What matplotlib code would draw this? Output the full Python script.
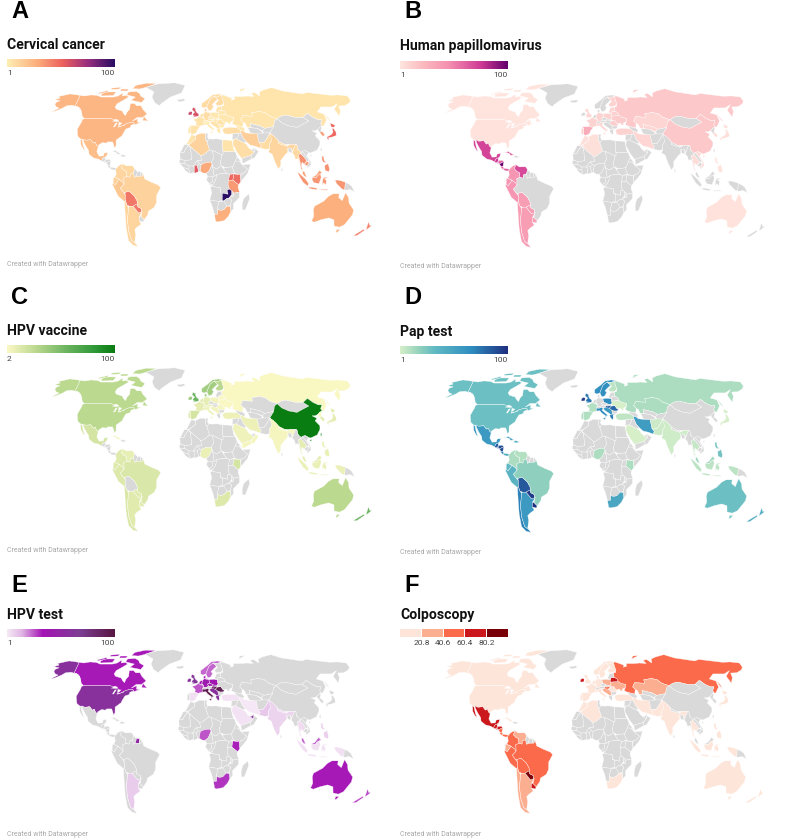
"""Six small world choropleths, Datawrapper style. Outlines are rough lon/lat rings."""
import numpy as np
import matplotlib

matplotlib.use("Agg")
import matplotlib.pyplot as plt
from matplotlib.colors import LinearSegmentedColormap, BoundaryNorm, ListedColormap, Normalize
from matplotlib.patches import Polygon

GRAY = "#d9d9d9"

OUTLINES = {
    "Canada": [
        [(-141,69.6),(-135,69),(-128,70),(-120,69.5),(-115,68),(-108,68),(-100,68),(-95,69),(-94,72),(-90,69),(-85,69.5),(-82,68),(-87,65),(-93,62),(-94.5,59),(-92,57),(-85,55.5),(-82,53),(-79.5,51.5),(-79,54.5),(-77,57),(-78,62),(-73,62),(-70,60),(-65,60),(-62,57),(-56,53),(-60,50),(-66,50),(-70,47),(-65,49),(-64,46),(-60,46),(-66,44),(-67.5,45.5),(-70,46),(-75,45),(-79,43),(-83,42),(-82.5,45),(-88,48),(-95,49),(-123,49),(-127,51),(-130,54.5),(-133,57),(-137,59),(-141,60)],
        [(-80,73.5),(-72,71.5),(-68,69),(-62,66.5),(-65,63),(-72,64),(-78,65),(-74,68),(-85,70),(-89,73)],
        [(-118,73),(-105,73),(-101,69.5),(-115,69),(-118,71)],
        [(-125,72),(-120,74.5),(-116,73),(-122,71)],
        [(-90,80),(-78,83),(-62,82.5),(-72,78),(-80,76),(-90,76.5)],
        [(-105,76),(-95,76),(-93,74),(-102,74)],
        [(-120,77),(-108,78),(-108,76),(-118,75.5)],
        [(-59,51),(-53,47),(-59,47.5)],
    ],
    "USA": [
        [(-124.7,48.4),(-123,49),(-95,49),(-88,48),(-84,46.5),(-82.5,45),(-83,42),(-79,43),(-75,45),(-70,46),(-67.5,45.5),(-67,44.5),(-70,43.5),(-70,41.7),(-74,40.5),(-75.5,37),(-76,35),(-81,31.5),(-80,27),(-81,25),(-82.7,28),(-84,30),(-89,30),(-90,29),(-94,29.5),(-97.3,27.5),(-97.3,26),(-99.5,27.5),(-101,29.7),(-103,29),(-106.5,31.8),(-111,31.3),(-117,32.5),(-120.5,34.5),(-122.5,37.5),(-124.3,40.3),(-124,46)],
        [(-141,69.6),(-141,60),(-137,59),(-133,57),(-131,55),(-135,58.5),(-145,60.5),(-151,60),(-154,58),(-160,55.5),(-164,54.7),(-158,58),(-162,59),(-165,61),(-165,63),(-161,64.5),(-168,65.5),(-163,67),(-166,68.5),(-157,71),(-150,70.5)],
    ],
    "Greenland": [[(-73,78),(-60,82),(-35,83.5),(-18,80),(-20,72),(-32,68),(-42,62),(-44,60),(-50,63),(-54,68),(-56,73)]],
    "Iceland": [[(-24,65.5),(-16,66.3),(-14,65),(-19,63.5),(-22.5,64)]],
    "Mexico": [
        [(-114.7,32.5),(-111,31.3),(-106.5,31.8),(-103,29),(-101,29.7),(-99.5,27.5),(-97.3,26),(-97.8,22),(-95,18.5),(-91,18.7),(-90.5,21),(-87,21.5),(-88,18),(-89,17.8),(-91,17),(-92.2,14.6),(-95,16),(-100,17),(-105,20),(-106,23),(-109.5,26.5),(-112.7,30)],
        [(-117,32.5),(-115,31.5),(-112,26.5),(-109.5,23),(-112,24.7),(-115,28)],
    ],
    "Guatemala": [[(-92.2,14.6),(-91,17),(-89.2,17.8),(-88.3,15.7),(-89.5,14.2),(-90.5,13.9)]],
    "Belize": [[(-89.2,17.8),(-88.3,18.4),(-88.3,15.9)]],
    "Salvador": [[(-90,13.8),(-88.8,14.3),(-87.8,13.4),(-89,13.3)]],
    "Honduras": [[(-88.3,15.7),(-85,16),(-83.2,15),(-85,14),(-87.3,13),(-88.8,14.3)]],
    "Nicaragua": [[(-87.3,13),(-85,14),(-83.2,15),(-83.7,11),(-85.7,11.1)]],
    "Costa Rica": [[(-85.7,11.1),(-83.7,11),(-82.6,9.5),(-83.2,8.3),(-85.5,10)]],
    "Panama": [[(-83,9.5),(-80,9.2),(-77.4,8.7),(-78,7.3),(-80.5,7.3),(-83,8.2)]],
    "Cuba": [[(-85,22),(-80,23.1),(-74.2,20.2),(-77.5,19.9),(-78.5,21.3),(-82,22.3)]],
    "Hispaniola": [[(-74.4,18.5),(-72.8,19.9),(-68.4,18.6),(-71.5,17.8)]],
    "Colombia": [[(-77.4,8.7),(-75,11),(-71.5,12.4),(-72.5,9),(-70,7),(-67.5,6),(-67,2),(-70,1.2),(-69.8,-4.2),(-71.5,-2.2),(-75,0),(-78.8,1.4),(-77.3,4),(-78,7.3)]],
    "Venezuela": [[(-71.5,12.4),(-68,10.6),(-62,10.7),(-60,8.5),(-60.8,5),(-64,4),(-64,1.5),(-67,2),(-67.5,6),(-70,7),(-72.5,9)]],
    "Guyana": [[(-60,8.5),(-57.2,6),(-58,2),(-60,1.3),(-60.8,5)]],
    "Suriname": [[(-57.2,6),(-54,5.9),(-54.5,2.3),(-58,2)]],
    "French Guiana": [[(-54,5.9),(-51.7,4.2),(-53,2.2),(-54.5,2.3)]],
    "Ecuador": [[(-80,1),(-78.8,1.4),(-75.3,0),(-75.5,-1.5),(-78.5,-4.8),(-80.3,-3.4)]],
    "Peru": [[(-81,-4.5),(-80.3,-3.4),(-78.5,-4.8),(-75.5,-1.5),(-75.3,0),(-71.5,-2.2),(-69.8,-4.2),(-73.5,-7.5),(-70.6,-11),(-69,-13),(-69.5,-17.5),(-70.5,-18.3),(-76,-14)]],
    "Bolivia": [[(-69.5,-10.9),(-65.4,-9.8),(-60.5,-13.7),(-58.3,-17.5),(-58,-20),(-62.5,-22),(-66,-22),(-68.5,-21),(-69.5,-17.5),(-69,-13)]],
    "Chile": [[(-70.5,-18.3),(-69.5,-17.5),(-68.5,-21),(-67,-23),(-70,-33),(-71.8,-42),(-72,-50),(-68.5,-52.5),(-67,-55),(-72,-54),(-75.5,-50),(-73.5,-40),(-71.5,-30)]],
    "Argentina": [[(-66,-22),(-62.5,-22),(-58,-27.3),(-54,-26),(-57.6,-30.5),(-58.4,-34),(-57,-36.5),(-62,-39),(-65,-41),(-65.5,-45),(-69,-51),(-68.5,-52.5),(-72,-50),(-71.8,-42),(-70,-33),(-67,-23)]],
    "Paraguay": [[(-62.5,-22),(-58,-20),(-58,-22.5),(-54.5,-24),(-54.7,-26.5),(-58,-27.3)]],
    "Uruguay": [[(-58.4,-34),(-57.6,-30.5),(-56,-30.2),(-53.3,-33),(-54.5,-34.8)]],
    "Brazil": [[(-60,1.3),(-58,2),(-54.5,2.3),(-53,2.2),(-51.7,4.2),(-50,0),(-44,-2.5),(-37,-5),(-35,-7),(-39,-13),(-39.5,-19),(-42,-23),(-48,-26),(-49,-29),(-53.3,-33),(-56,-30.2),(-54,-26),(-54.7,-26.5),(-54.5,-24),(-58,-22.5),(-58,-20),(-58.3,-17.5),(-60.5,-13.7),(-65.4,-9.8),(-69.5,-10.9),(-70.6,-11),(-73.5,-7.5),(-69.8,-4.2),(-70,1.2),(-67,2),(-64,1.5),(-64,4),(-60.8,5)]],
    "Morocco": [[(-9.5,30),(-6,35.8),(-2,35),(-1.5,32),(-5,30),(-8.7,28),(-13,27.7),(-10,29)]],
    "W Sahara": [[(-13,27.7),(-8.7,27.7),(-12,23.4),(-13,21.3),(-17,21),(-15,24)]],
    "Algeria": [[(-2,35),(3,37),(8.6,36.9),(8,33),(9.5,30),(12,23.5),(5.7,19.4),(3.2,19),(-8.7,27.3),(-5,30),(-1.5,32)]],
    "Tunisia": [[(8.6,36.9),(11,37),(10.2,34),(11.5,32.5),(9.5,30),(8,33)]],
    "Libya": [[(11.5,32.5),(15,32.3),(20,32.5),(25,31.6),(25,20),(24,19.5),(15,23),(12,23.5),(9.5,30)]],
    "Egypt": [[(25,31.6),(31,31.5),(34.5,31),(35.5,24),(37,22),(25,22)]],
    "Mauritania": [[(-17,21),(-13,21.3),(-12,23.4),(-8.7,27.3),(-5,25),(-6.5,25),(-5.5,15.5),(-12,15),(-16.5,16)]],
    "Mali": [[(-8.7,27.3),(3.2,19),(4.2,15),(0,14.8),(-4,10.5),(-8,10.5),(-12,12.5),(-12,15),(-5.5,15.5),(-6.5,25)]],
    "Senegal": [[(-17.5,14.7),(-16.5,16),(-12,15),(-12,12.5),(-16.7,12.4)]],
    "Guinea": [[(-16.7,12.4),(-12,12.5),(-8,10.5),(-8,7.7),(-10.5,8.5),(-13.3,9.3),(-15,11)]],
    "Liberia": [[(-13.3,9.3),(-10.5,8.5),(-8,7.7),(-7.5,4.4),(-11.5,6.8)]],
    "Ivory Coast": [[(-8,10.5),(-4,10.5),(-2.7,9.5),(-3,5.2),(-7.5,4.4),(-8,7.7)]],
    "Burkina": [[(-4,10.5),(0,14.8),(2.2,12.4),(0,11),(-2.7,9.5)]],
    "Ghana": [[(-2.7,11),(0,11),(1.2,6),(-2,4.8),(-3,5.2)]],
    "Benin": [[(0,11),(2.2,12.4),(3.8,11.7),(2.7,6.3),(1.2,6)]],
    "Niger": [[(3.2,19),(5.7,19.4),(12,23.5),(15,23),(15.5,16.5),(13.5,13.6),(8,13.3),(3.8,11.7),(2.2,12.4),(0,14.8),(4.2,15)]],
    "Nigeria": [[(2.7,6.3),(3.8,11.7),(8,13.3),(13.5,13.6),(14.2,12),(11.5,6.7),(8.5,4.6),(5.5,4.8)]],
    "Chad": [[(15,23),(24,19.5),(22,13),(23,10.8),(18.5,8),(14.5,10),(14.2,12),(13.5,13.6),(15.5,16.5)]],
    "Sudan": [[(25,22),(37,22),(38.5,18),(36.5,14.5),(34,10),(27,9),(23,10.8),(22,13),(24,19.5),(25,20)]],
    "S Sudan": [[(27,9),(34,10),(34,8),(35.5,4.8),(31,3.7),(28,4.5),(24.5,8.7)]],
    "Eritrea": [[(38.5,18),(43,12.7),(40,14.5),(36.5,14.5)]],
    "Ethiopia": [[(36.5,14.5),(40,14.5),(43,11.5),(48,8),(45,5),(41.8,4),(39,3.5),(35.5,4.8),(34,8),(34,10)]],
    "Somalia": [[(43,11.5),(51,12),(48,4.5),(42,-1.5),(41,-0.8),(41.8,4),(45,5),(48,8)]],
    "Cameroon": [[(8.5,4.6),(11.5,6.7),(14.2,12),(14.5,10),(15.5,7),(16,2),(9.8,2.2)]],
    "CAR": [[(15.5,7),(14.5,10),(18.5,8),(23,10.8),(24.5,8.7),(28,4.5),(22,4.2),(18.5,3.6),(16,2)]],
    "Gabon": [[(9.3,1),(9.8,2.2),(14,2.2),(14.5,-2),(11.5,-3.8),(8.8,-1)]],
    "Congo": [[(14,2.2),(16,2),(18.5,3.6),(17.5,-1),(15,-4.5),(11.5,-4.8),(11.5,-3.8),(14.5,-2)]],
    "DRC": [[(18.5,3.6),(22,4.2),(28,4.5),(31,3.7),(29.7,-1),(29.3,-4.5),(30.7,-8.2),(28.5,-9),(29.5,-12.3),(27,-12),(22,-11),(21.8,-7),(13,-6),(15,-4.5),(17.5,-1)]],
    "Uganda": [[(31,3.7),(35,4.2),(34,0),(33.9,-1),(29.7,-1.2),(30,0.5)]],
    "Kenya": [[(35,4.2),(39,3.5),(41,3.9),(41,-0.8),(41.5,-2),(39.3,-4.7),(33.9,-1),(34,0)]],
    "Tanzania": [[(29.7,-1.2),(33.9,-1),(39.3,-4.7),(38.8,-6.5),(40.4,-10.5),(35,-11.5),(33,-9.5),(30.7,-8.2),(29.3,-4.5)]],
    "Angola": [[(13,-6),(21.8,-7),(22,-11),(24,-11),(24,-17.5),(20,-18),(12,-17.3),(13.7,-11),(12.5,-6.5)]],
    "Zambia": [[(22,-11),(27,-12),(29.5,-12.3),(28.5,-9),(30.7,-8.2),(33,-9.5),(33,-12.5),(30.5,-15.3),(28,-16),(25.5,-17.8),(24,-17.5),(24,-11)]],
    "Malawi": [[(33,-9.5),(34.8,-11.5),(35.7,-15),(35,-17),(33.5,-14)]],
    "Mozambique": [[(35,-11.5),(40.4,-10.5),(40.5,-15),(35,-20),(35.5,-24),(32.8,-26.5),(32,-22),(33,-17),(30.5,-15.3),(33,-14),(34.6,-14.5)]],
    "Zimbabwe": [[(25.5,-17.8),(28,-16),(30.5,-15.5),(33,-17),(32,-21.5),(29,-22),(26,-19)]],
    "Namibia": [[(12,-17.3),(20,-18),(25,-17.7),(21,-18.5),(20,-22),(20,-28.5),(17,-28.8),(14.5,-22)]],
    "Botswana": [[(21,-18.5),(25.5,-17.8),(29,-22),(26,-24.8),(23,-25.5),(20,-24.8),(20,-22)]],
    "South Africa": [[(17,-28.8),(20,-28.5),(20,-24.8),(23,-25.5),(26,-24.8),(29,-22),(32,-22.3),(32.8,-26.5),(31,-30),(27,-33.7),(20,-34.8),(18.3,-34)]],
    "Madagascar": [[(49.3,-12),(50.4,-16),(47,-25),(44,-25),(43.5,-21),(44.5,-16)]],
    "Ireland": [[(-10,52),(-10,54),(-7.5,55.3),(-5.8,54.5),(-6,52.2)]],
    "UK": [[(-5.5,50),(1.5,51.2),(1.7,52.8),(-1,54.5),(-2,56),(-2,57.6),(-5,58.6),(-6,56.5),(-3,54.5),(-4.8,53),(-5,51.7),(-3,51.3)]],
    "Norway": [[(5,59),(5,62),(12,66),(18,70),(26,71),(31,70),(25,68.7),(20,69),(15,66),(12,61),(11,59),(7.5,58)]],
    "Sweden": [[(11,59),(12,61),(15,66),(20,69),(24,66),(21,64),(17,61),(18.8,59.5),(16.5,56.5),(13,55.5)]],
    "Finland": [[(20,69),(25,68.7),(29,69.5),(30,65),(31,62.5),(28,60.5),(23,60),(21,62),(25,65),(24,66)]],
    "Denmark": [[(8.2,55),(8.3,57),(10.5,57.5),(10.5,55),(12.5,55.5),(12,54.7),(9.5,54.8)]],
    "Germany": [[(6,51),(7,53.5),(9,54.8),(14,54),(15,51),(12.2,50.3),(13.7,48.6),(10,47.4),(7.6,47.6),(8,49)]],
    "Benelux": [[(2.6,51),(4.5,53),(7,53.5),(6,51),(6,49.5),(4,50)]],
    "France": [[(-1.5,43.4),(-1.2,46),(-4.7,48.4),(-1.5,49),(2.6,51),(4,50),(8,49),(7.6,47.6),(7,43.7),(3,43),(3,42.5)]],
    "Spain": [[(-9,43),(-1.5,43.4),(3,42.5),(0,39.5),(-0.5,38),(-2,36.8),(-5.5,36),(-7,37.2),(-7,42)]],
    "Portugal": [[(-9,42),(-7,42),(-7,37.2),(-9,37),(-9.5,38.8)]],
    "Alps": [[(6.2,46.2),(7.6,47.6),(10,47.4),(13.7,48.6),(17,48),(16,46.8),(12.5,46.6),(9,46)]],
    "Italy": [[(7,43.7),(6.2,46.2),(9,46),(12.5,46.6),(13.7,45.6),(12.3,44.5),(16,41.8),(18.4,40),(16.5,39.8),(16,38),(15.5,40),(12,42),(10,44)],
              [(12.5,38),(15.6,38.2),(15,36.7)]],
    "Poland": [[(14,54),(19,54.4),(23.5,54),(24,50.5),(22.5,49.1),(19,49.4),(15,51)]],
    "Czechia": [[(12.2,50.3),(15,51),(18.8,49.6),(17,48.7),(13.7,48.6)]],
    "Slovakia": [[(17,48),(17,48.7),(18.8,49.6),(22.5,49.1),(22.2,48.3),(18.8,47.8)]],
    "Hungary": [[(16,46.8),(17,48),(18.8,47.8),(22.2,48.3),(22.8,47.8),(20.3,46),(17,45.9)]],
    "Romania": [[(20.3,46),(22.8,47.8),(26.6,48.2),(28.2,46),(29.7,45),(28.5,43.8),(25,43.7),(22.7,44.3)]],
    "Bulgaria": [[(22.7,44.3),(25,43.7),(28.5,43.8),(27.8,42),(26,41.4),(23,41.4)]],
    "Balkans": [[(13.7,45.6),(16,46.8),(20.3,46),(22.7,44.3),(23,41.4),(20.8,40.9),(19.4,42),(15.5,44)]],
    "Greece": [[(20,39.7),(20.8,40.9),(26,41.4),(23.5,40.3),(23.5,37.8),(22.5,36.5),(21,38)]],
    "Ukraine": [[(24,50.5),(23.5,52),(32,52.5),(35,51),(40,50),(39,47.5),(35,46),(36,45),(33.5,44.5),(32,46.3),(30,45.5),(28.2,46),(26.6,48.2),(22.5,48.4)]],
    "Belarus": [[(23.5,54),(24.5,56),(28,56),(31,55),(32,52.5),(23.5,52)]],
    "Baltics": [[(21,56),(23.5,59.3),(28,59.5),(28,56),(24.5,56),(23.5,54),(21,55)]],
    "Turkey": [[(26,40),(28,41.3),(33,42),(41.5,41.5),(44.5,39.5),(44.5,37),(36,36.5),(30,36.3),(27,37)]],
    "Russia": [[(28,60),(30,60),(31,62.5),(30,65),(29,69.5),(31,70),(41,67),(40,65),(44,66),(44,68.5),(54,68.5),(60,69),(68,68.5),(67,71.5),(73,72.5),(75,69),(80,73),(90,75),(105,77.5),(113,74),(130,71),(140,72.5),(160,69.7),(170,70),(180,69),(180,65),(177,62.5),(170,60),(163,59.8),(162,56),(156.7,51),(155.7,57),(163,62),(155,59),(142,59),(135,54.7),(141,53),(140,48),(133,43),(131,43),(131,45),(135,48),(131,48),(127,50),(123,53.5),(120,52),(116,50),(108,50),(98,52),(92,51),(87,49),(80,51),(76,54),(70,55),(61,54),(61,51),(50,51.5),(47,48),(49,46),(47.5,42),(40,43.5),(37,45),(39,47.5),(40,50),(35,51),(32,52.5),(31,55),(28,56)],
            [(142,54),(143.5,49),(142.5,46.5),(142,50)],[(55,73),(68,76.5),(60,76),(52,71.5)]],
    "Caucasus": [[(40,43.5),(47.5,42),(49.5,40.3),(48,38.5),(44.5,39.5),(41.5,41.5)]],
    "Kazakhstan": [[(47,48),(50,51.5),(61,51),(61,54),(70,55),(76,54),(80,51),(87,49),(83,47),(80,42.5),(70,41),(66,43),(56,45),(56,41.5),(52,42),(51,45),(49,46)]],
    "Uzbekistan": [[(56,45),(66,43),(70,41),(67,39),(62,41),(56,41.5)]],
    "Turkmenistan": [[(52.5,41.5),(56,41.5),(62,41),(67,38),(62,35.3),(54,37.5)]],
    "Kyrgyz": [[(70,41),(80,42.5),(74,37.3),(68,37),(67,39)]],
    "Mongolia": [[(87,49),(92,51),(98,52),(108,50),(116,50),(120,47),(112,44.5),(104,41.8),(96,43),(90,45.5)]],
    "China": [[(74,37.3),(80,42.5),(83,47),(87,49),(90,45.5),(96,43),(104,41.8),(112,44.5),(120,47),(116,50),(120,52),(123,53.5),(127,50),(131,48),(135,48),(131,45),(131,43),(128,42),(124.3,40),(121,39),(118,39),(122,37),(119,35),(122,31),(121,28),(117,23.5),(110,21),(108,21.6),(105,23),(102,21.5),(99.5,22),(98,25),(98,28),(92,28),(86,28),(81,30.3),(79,33),(75,36)],
              [(108.7,19.3),(111,19.8),(110,18.3)]],
    "Taiwan": [[(121,25.2),(122,25),(120.8,22),(120,23.5)]],
    "North Korea": [[(124.3,40),(128,42),(130.6,42.5),(127.5,39.5),(128,38.4),(125,37.8)]],
    "South Korea": [[(125,37.8),(128,38.4),(129.4,36),(127,34.5),(126.3,35)]],
    "Japan": [[(130,33),(131,34.2),(136,36),(139,38),(140,41),(141.5,41),(142,38),(140.5,35.2),(136,34),(132,33.5),(131,31.2)],
              [(140,42),(141.5,45.5),(145.3,43.5),(143,42)]],
    "Iran": [[(44.5,39.5),(48,38.5),(49,37.4),(54,37),(61,36.5),(61,31),(63,27),(61.5,25),(57,26.5),(52,27.5),(48.5,30.3),(46,33),(44.5,37)]],
    "Iraq": [[(42.5,37.2),(44.5,37),(46,33),(48.5,30),(46.5,29.2),(42,31),(39,32.5),(41,34.5)]],
    "Syria": [[(36,36.5),(42.5,37.2),(41,34.5),(39,32.5),(36,32.3),(34.5,31),(35.5,34.5)]],
    "Saudi": [[(36,32),(39,32.5),(42,31),(46.5,29.2),(48.5,28),(50,25.5),(52,24),(55.5,22),(52,19),(45,17.3),(43,16.5),(39,21),(35,28)]],
    "Yemen": [[(43,16.5),(45,17.3),(52,19),(53,16.7),(45,13),(43.3,12.8)]],
    "Oman": [[(55.5,22),(56.3,24.5),(59.8,22.5),(55,17),(53,16.7),(52,19)]],
    "UAE": [[(52,24),(54.5,24.2),(56.3,25.8),(55.5,22)]],
    "Afghanistan": [[(61,36.5),(67,37.3),(74,37.3),(70,33),(66,29.5),(61,29.5),(61,31)]],
    "Pakistan": [[(61,29.5),(66,29.5),(70,33),(74,37),(77,35),(74,31),(71,28),(71,24.5),(67,24),(61.5,25),(63,27)]],
    "India": [[(74,37),(77,35),(79,33),(81,30.3),(80.2,28.7),(88,26.5),(92,28),(97,28),(94,24),(92,22.5),(92,25),(88.5,25),(88,21.7),(85,19.5),(80.3,15),(80,11),(77.5,8),(74.5,14),(72.7,20),(69,22),(71,24.5),(71,28),(74,31)]],
    "Nepal": [[(80.2,28.7),(81,30.3),(86,28),(88,27.8),(88,26.5)]],
    "Bangladesh": [[(88.5,25),(92,25),(92,21),(89,21.8)]],
    "Sri Lanka": [[(80,9.7),(81.8,7.5),(80.5,6)]],
    "Myanmar": [[(92.2,21),(94,24),(97,28),(98.5,27),(98,24),(101,21.5),(98,19),(98.6,14),(98.7,10),(97.5,16.5),(94.5,16),(94,19)]],
    "Thailand": [[(98,20),(100.5,20.3),(103,18),(105.5,15),(102.5,12),(100.5,13.5),(99.5,10),(101,6.8),(99,8.5),(98.7,14)]],
    "Laos": [[(100.5,20.3),(102,22.4),(105,19),(107.5,15),(105.5,14.3),(103,18)]],
    "Cambodia": [[(102.5,12),(105.5,14.3),(107.5,13),(105,10.5)]],
    "Vietnam": [[(102,22.4),(105,23),(108,21.5),(106,19),(109,14),(109,11.5),(105,8.7),(105,10.5),(107.5,13),(107.5,15),(105,19)]],
    "Malaysia": [[(100.5,6.4),(102,6.2),(103.5,3),(104.2,1.4),(102,2.3),(100.5,4)],
                 [(109.5,1.5),(113,3),(116.7,7),(119,5),(117.5,4.2),(115,3),(113.5,1.3),(111,1)]],
    "Indonesia": [[(95.3,5.6),(98,4),(103,0),(106,-3.5),(105.5,-5.8),(101,-3),(98,1)],
                  [(105.5,-6.8),(108.5,-6.5),(114.5,-7.5),(114.3,-8.7),(108,-7.9)],
                  [(109.5,1.5),(111,1),(113.5,1.3),(115,3),(117.5,4.2),(118,1),(116,-3.8),(111,-3),(109.3,-0.5)],
                  [(119,-5.5),(119.5,0),(120.8,1.3),(125,1.4),(121,0),(123,-1),(122.5,-5),(120.5,-3)],
                  [(116,-8.5),(124,-8.3),(125,-9),(119,-9)],
                  [(131,-1),(134,-0.8),(138,-1.7),(141,-2.6),(141,-9),(138,-8),(133,-4)]],
    "PNG": [[(141,-2.6),(145,-4.3),(147.5,-6),(150.5,-10.5),(146,-8.5),(143,-9),(141,-9)]],
    "Philippines": [[(120.5,18.5),(122.2,18.4),(122,15),(124,13),(121,13.7),(120,15)],
                    [(122,11),(125.5,12.5),(126.3,8),(125.5,5.8),(122,7)]],
    "Australia": [[(114,-22),(122,-18),(126,-14),(130,-12),(136,-12),(136,-15),(140,-17.5),(142,-11),(145.5,-15),(147,-19.5),(153,-25),(153.5,-29),(150,-37),(146,-39),(140,-38),(137,-33),(131,-31.5),(124,-33),(118,-35),(115,-34),(115.5,-30),(113.5,-25)],
                  [(144.7,-40.8),(148.3,-41),(147,-43.5),(145.5,-43)]],
    "New Zealand": [[(172.7,-34.5),(176,-37.5),(178.5,-37.7),(175.5,-41.5),(174.5,-39.5)],
                    [(172.7,-40.6),(174.3,-41.7),(170.5,-46),(166.5,-46),(169,-43.7)]],
}

LAKES = [
    [(-92,46.8),(-88,48.6),(-85,47.8),(-84.8,46.6),(-87,46.5)],
    [(-88,42),(-86.3,42),(-85,45.8),(-87,45.5)],
    [(-84,46),(-80,45.5),(-81.7,43.2),(-83.5,44)],
    [(-83.3,41.6),(-79,42.8),(-81,42.9)],
    [(-79.7,43.3),(-76.3,43.4),(-77,44)],
]

PANEL_LETTERS = ["A", "B", "C", "D", "E", "F"]
PANEL_TITLES = ["Cervical cancer", "Human papillomavirus", "HPV vaccine", "Pap test", "HPV test", "Colposcopy"]
LOW_LABELS = ["1", "1", "2", "1", "1", None]
STEP_LABELS = ["20.8", "40.6", "60.4", "80.2"]
STEP_EDGES = [1, 20.8, 40.6, 60.4, 80.2, 100]

CANCER = {"Canada":25,"USA":25,"Mexico":22,"Colombia":12,"Venezuela":11,"Ecuador":14,"Peru":18,"Brazil":13,"Chile":12,"Argentina":12,
    "Bolivia":45,"Paraguay":45,"UK":58,"Ireland":62,"Norway":9,"Sweden":10,"Finland":9,"Denmark":14,"Russia":5,"Germany":8,"France":6,
    "Spain":6,"Portugal":6,"Benelux":8,"Alps":4,"Italy":2,"Poland":4,"Czechia":4,"Slovakia":4,"Hungary":4,"Romania":6,"Bulgaria":4,
    "Balkans":6,"Greece":4,"Ukraine":4,"Belarus":4,"Baltics":6,"Turkey":8,"Kazakhstan":5,"Caucasus":4,"Iran":15,"Pakistan":9,"India":12,"Nepal":9,
    "Saudi":8,"Egypt":6,"Algeria":13,"Morocco":6,"Nigeria":30,"Ghana":55,"Uganda":50,"Kenya":48,"Tanzania":35,"Zambia":100,"South Africa":28,
    "Japan":50,"South Korea":35,"Thailand":38,"Cambodia":34,"Malaysia":32,"Indonesia":36,"Philippines":38,"Australia":28,"New Zealand":42,"Myanmar":10}
HPV = {"Canada":2,"USA":3,"Mexico":72,"Guatemala":75,"Honduras":60,"Nicaragua":100,"Belize":60,"Salvador":70,"Costa Rica":60,"Panama":60,"Cuba":62,
    "Colombia":42,"Venezuela":70,"Ecuador":42,"Peru":42,"Bolivia":38,"Chile":38,"Argentina":38,"Paraguay":38,"Uruguay":38,"Russia":15,"Kazakhstan":9,
    "China":15,"Japan":4,"South Korea":6,"Spain":30,"Portugal":12,"France":10,"UK":8,"Germany":10,"Italy":9,"Poland":10,"Ukraine":14,"Romania":14,"Finland":10,
    "Turkey":10,"Iran":8,"Algeria":4,"Morocco":4,"Thailand":6,"Vietnam":6,"Philippines":2,"Australia":3,"Uzbekistan":9,"Belarus":12,"Baltics":10}
VACCINE = {"Canada":27,"USA":27,"Mexico":18,"Colombia":13,"Venezuela":9,"Ecuador":14,"Peru":14,"Brazil":15,"Chile":15,"Argentina":12,"Paraguay":12,"Uruguay":12,
    "Russia":2,"Norway":36,"Sweden":36,"Finland":28,"Denmark":40,"UK":56,"Ireland":40,"Germany":10,"Benelux":12,"France":10,"Spain":18,"Portugal":12,"Italy":7,"Poland":5,"Alps":8,
    "Balkans":5,"Romania":4,"Ukraine":2,"Belarus":2,"Turkey":7,"Iran":7,"Saudi":6,"Yemen":4,"Oman":4,"Nepal":4,"India":4,"China":100,"Taiwan":70,"Japan":10,"South Korea":13,"North Korea":2,
    "Thailand":10,"Malaysia":11,"Indonesia":8,"Philippines":8,"Australia":27,"New Zealand":56,"Nigeria":8,"Kenya":18,"South Africa":14,"Cuba":4}
PAP = {"Canada":30,"USA":30,"Mexico":58,"Guatemala":82,"Belize":60,"Salvador":82,"Honduras":90,"Nicaragua":90,"Costa Rica":70,"Panama":42,"Cuba":52,"Hispaniola":42,
    "Colombia":12,"Venezuela":10,"Ecuador":34,"Peru":38,"Bolivia":85,"Chile":70,"Argentina":58,"Paraguay":95,"Uruguay":100,"Brazil":20,"Sweden":65,"Norway":65,"UK":74,"Ireland":95,
    "Poland":67,"Romania":80,"Hungary":82,"Italy":67,"Greece":72,"Balkans":58,"Spain":11,"Portugal":11,"France":10,"Ukraine":1,"Russia":12,"Kazakhstan":12,"Finland":8,"Turkey":7,"Iran":55,
    "Pakistan":4,"India":3,"Saudi":1,"Afghanistan":4,"Nigeria":12,"Kenya":12,"South Africa":48,"Australia":30,"New Zealand":44,"Thailand":6,"Philippines":28,"Malaysia":15,"Indonesia":8,"Japan":1}
HPV_TEST = {"Canada":33,"USA":58,"Sweden":24,"Norway":24,"Denmark":32,"UK":62,"Ireland":58,"Germany":40,"Benelux":38,"France":26,"Spain":4,"Poland":36,"Italy":95,"Hungary":90,"Romania":92,
    "Balkans":58,"Greece":62,"Czechia":44,"Slovakia":52,"Turkey":3,"Pakistan":10,"India":7,"Nepal":6,"Iran":2,"Saudi":3,"UAE":60,"Nigeria":26,"Kenya":32,"South Africa":30,"Argentina":9,
    "Suriname":50,"Australia":33,"New Zealand":27,"Thailand":5,"Malaysia":24,"Indonesia":4,"Philippines":8}
COLPO = {"Canada":1,"USA":1,"Mexico":72,"Guatemala":72,"Belize":50,"Honduras":70,"Salvador":70,"Nicaragua":60,"Costa Rica":50,"Panama":50,"Cuba":2,"Colombia":50,"Venezuela":30,"Ecuador":30,"Peru":50,
    "Bolivia":50,"Brazil":50,"Paraguay":100,"Uruguay":75,"Argentina":30,"Chile":30,"Russia":50,"Kazakhstan":30,"Belarus":75,"Ukraine":30,"Poland":30,"Romania":10,"Hungary":50,"Balkans":30,
    "UK":5,"Ireland":75,"Norway":1,"Sweden":1,"Finland":1,"Denmark":5,"Germany":5,"Benelux":5,"Turkey":2,"India":3,"Iran":3,"Algeria":3,"Pakistan":3,"Spain":2,"Portugal":2,"France":2,"Italy":2,
    "South Africa":10,"Australia":2,"New Zealand":1,"Indonesia":5,"Thailand":2,"Philippines":1,"Japan":1,"Morocco":2}
PANEL_DATA = [CANCER, HPV, VACCINE, PAP, HPV_TEST, COLPO]

CMAP_COLORS = [
    [(0, "#ffeeb4"), (.28, "#fcae7c"), (.52, "#ec5f5e"), (.75, "#98307f"), (1, "#2a0d62")],
    [(0, "#ffe6df"), (.2, "#fbbcc0"), (.45, "#f590b0"), (.75, "#cf3a95"), (1, "#63006c")],
    [(0, "#fbf8c4"), (.28, "#b8d78d"), (.55, "#6cb460"), (.8, "#329a3a"), (1, "#0a7d12")],
    [(0, "#d6efc9"), (.18, "#92d1bc"), (.32, "#62bac4"), (.66, "#2f8ec0"), (1, "#1f2f80")],
    [(0, "#f6eaf6"), (.14, "#dfb4e3"), (.33, "#a412b5"), (.68, "#7c3e92"), (1, "#581640")],
]
STEP_COLORS = ["#fee5d9", "#fcae91", "#fb6a4a", "#cb181d", "#7a0008"]

# panel origin, in figure px
OFFSETS = [(0, 0), (393, 1), (0, 285), (393, 286), (-1, 567), (392, 567)]
TEXT_X = [7, 400, 7, 400, 7, 400]
TITLE_Y = [45, 46, 331, 332, 615, 615]
LETTER_Y = [11, 11, 297, 297, 585, 585]
BAR_Y = [59, 61, 345, 346, 629, 629]

LATS = np.arange(0, 95, 5)
ROB_X = [1, .9986, .9954, .99, .9822, .973, .96, .9427, .9216, .8962, .8679, .845, .825, .81, .79, .7, .65, .6, .55]
ROB_Y = [0, .062, .124, .186, .248, .31, .372, .434, .4958, .5571, .6176, .6769, .7346, .7903, .8435, .8936, .9394, .9761, 1]


def project(ring, ox, oy):
    pts = np.array(ring, dtype=float)
    lat = np.abs(pts[:, 1])
    x = ox + (592 + 3.15 * pts[:, 0] * np.interp(lat, LATS, ROB_X)) / 3
    y = oy + (537 - 299 * np.sign(pts[:, 1]) * np.interp(lat, LATS, ROB_Y)) / 3
    return np.column_stack([x, y])


fig = plt.figure(figsize=(7.87, 8.4), dpi=100)
ax = fig.add_axes([0, 0, 1, 1])

for i, values in enumerate(PANEL_DATA):
    ox, oy = OFFSETS[i]
    stepped = i == 5
    if stepped:
        cmap = ListedColormap(STEP_COLORS)
        norm = BoundaryNorm(STEP_EDGES, 5)
    else:
        cmap = LinearSegmentedColormap.from_list(PANEL_TITLES[i], CMAP_COLORS[i])
        norm = Normalize(1, 100)

    for name, rings in OUTLINES.items():
        color = cmap(norm(values[name])) if name in values else GRAY
        for ring in rings:
            ax.add_patch(Polygon(project(ring, ox, oy), closed=True, facecolor=color, edgecolor="white", linewidth=0.25))
    for ring in LAKES:
        ax.add_patch(Polygon(project(ring, ox, oy), closed=True, facecolor="white", edgecolor="none"))

    lx = TEXT_X[i]
    ax.text(lx + 4, LETTER_Y[i], PANEL_LETTERS[i], fontsize=17, fontweight="bold", family="Liberation Sans", va="center", color="black")
    ax.text(lx, TITLE_Y[i], PANEL_TITLES[i], fontsize=10.1, fontweight="bold", family="Roboto", va="center", color="#111111")
    by = BAR_Y[i]
    if stepped:
        edges = np.linspace(lx, lx + 108, 6)
        for k in range(5):
            ax.fill_between([edges[k] + 0.4, edges[k + 1] - 0.4], by, by + 8, color=STEP_COLORS[k], linewidth=0)
        for k, label in enumerate(STEP_LABELS):
            ax.text(edges[k + 1], by + 14, label, fontsize=6, family="Roboto", color="#444444", ha="center", va="center")
    else:
        grad = np.linspace(0, 1, 256).reshape(1, -1)
        ax.imshow(grad, extent=[lx, lx + 108, by + 8, by], cmap=cmap, aspect="auto", zorder=2)
        ax.text(lx, by + 14, LOW_LABELS[i], fontsize=6, family="Roboto", color="#444444", va="center")
        ax.text(lx + 108, by + 14, "100", fontsize=6, family="Roboto", color="#444444", va="center", ha="right")
    ax.text(lx, BAR_Y[i] + 206, "Created with Datawrapper", fontsize=5, family="Roboto", color="#a8a8a8", va="center")

ax.set_xlim(0, 787)
ax.set_ylim(840, 0)
ax.axis("off")
fig.savefig("out.png", dpi=100)
